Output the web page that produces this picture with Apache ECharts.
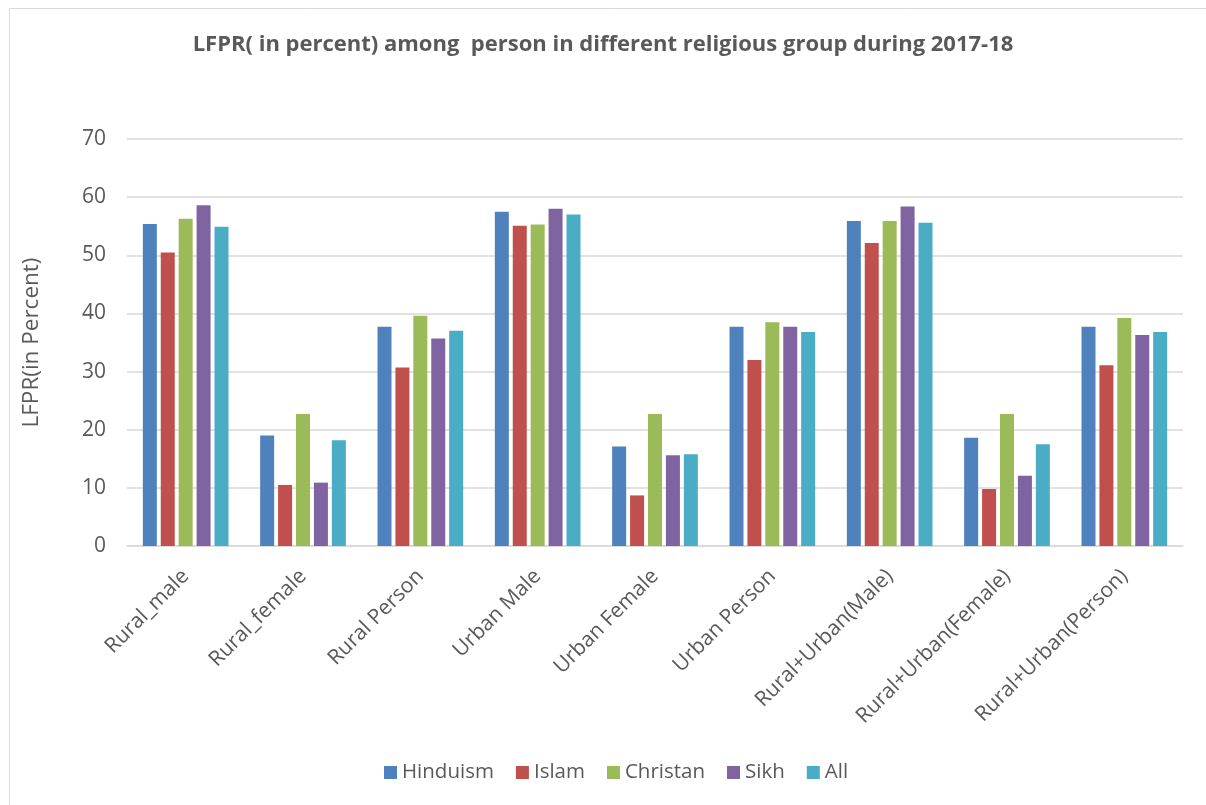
<!DOCTYPE html>
<html>
<head>
<meta charset="utf-8">
<script src="https://cdn.jsdelivr.net/npm/echarts@6/dist/echarts.min.js"></script>
<style>html,body{margin:0;padding:0;background:#fff}#c{width:1206px;height:805px}</style>
</head>
<body>
<div id="c"></div>
<script>
const categories = ["Rural_male","Rural_female","Rural Person","Urban Male","Urban Female","Urban Person","Rural+Urban(Male)","Rural+Urban(Female)","Rural+Urban(Person)"];
const hinduism = [55.4,19.0,37.7,57.5,17.1,37.7,55.9,18.6,37.7];
const islam    = [50.5,10.5,30.7,55.1,8.7,32.0,52.1,9.8,31.1];
const christan = [56.3,22.7,39.6,55.3,22.7,38.5,55.9,22.7,39.2];
const sikh     = [58.6,10.9,35.7,58.0,15.6,37.7,58.4,12.1,36.3];
const all      = [54.9,18.2,37.0,57.0,15.8,36.8,55.6,17.5,36.8];
const seriesNames = ["Hinduism","Islam","Christan","Sikh","All"];
const seriesData = [hinduism, islam, christan, sikh, all];
const colors = ["#4F81BD","#C0504D","#9BBB59","#8064A2","#4BACC6"];
const yTicks = {min:0, max:70, interval:10};

const font = "'Open Sans', sans-serif";
const chart = echarts.init(document.getElementById('c'));
chart.setOption({
  animation:false,
  color: colors,
  textStyle:{fontFamily:font},
  graphic:[{type:'rect', shape:{x:9.5,y:8.5,width:1300,height:900}, style:{fill:'none',stroke:'#d9d9d9',lineWidth:1}, silent:true}],
  title:{
    text:"LFPR( in percent) among  person in different religious group during 2017-18",
    left:'center', top:29,
    textStyle:{fontSize:22, fontWeight:'bold', color:'#595959', fontFamily:font}
  },
  legend:{
    left:379, top:757, itemWidth:13, itemHeight:13, itemGap:22, icon:'rect',
    textStyle:{fontSize:20.5, color:'#595959', fontFamily:font}
  },
  grid:{left:127, right:23, top:139, bottom:259, containLabel:false},
  xAxis:{
    type:'category', data:categories,
    axisLine:{lineStyle:{color:'#d9d9d9', width:1.5}},
    axisTick:{show:false},
    axisLabel:{rotate:45, fontSize:21, color:'#595959', margin:27, interval:0, fontFamily:font}
  },
  yAxis:{
    type:'value', min:yTicks.min, max:yTicks.max, interval:yTicks.interval,
    name:'LFPR(in Percent)', nameLocation:'middle', nameGap:84,
    nameTextStyle:{fontSize:22.5, color:'#595959', fontFamily:font},
    axisLine:{show:false}, axisTick:{show:false},
    axisLabel:{fontSize:21, color:'#595959', margin:21, fontFamily:font},
    splitLine:{lineStyle:{color:'#d9d9d9', width:1.5}}
  },
  series: seriesNames.map((n,i)=>({
    name:n, type:'bar', data:seriesData[i], barWidth:14, barGap:'28%'
  }))
});
</script>
</body>
</html>
